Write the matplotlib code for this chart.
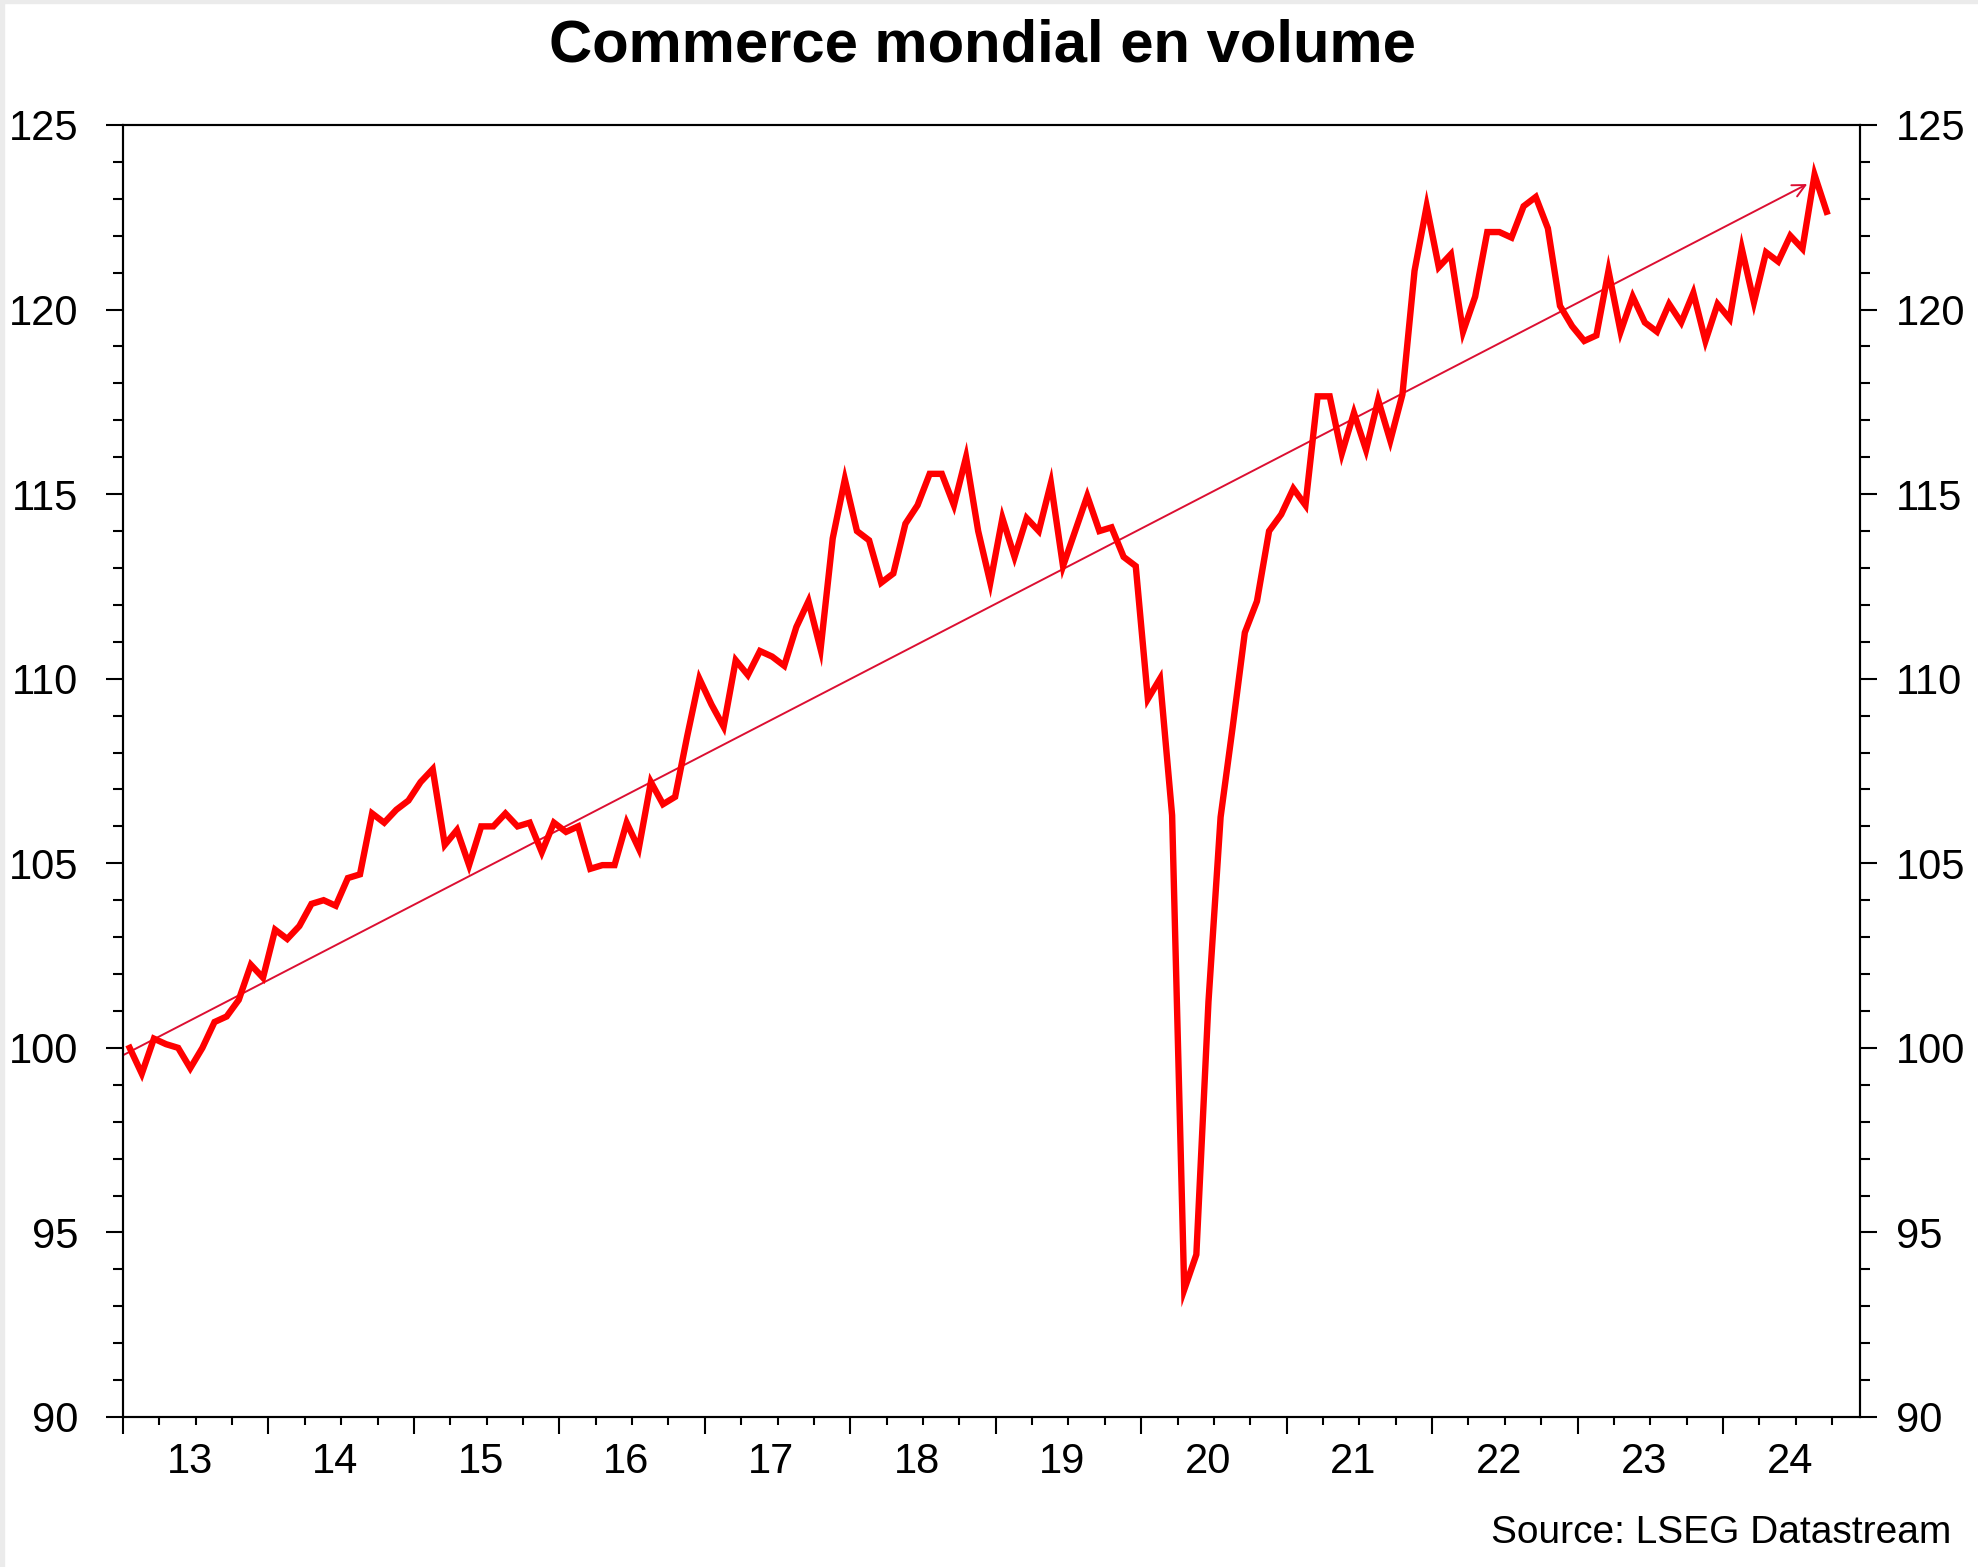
import matplotlib
matplotlib.use("Agg")
import matplotlib.pyplot as plt
import matplotlib.transforms as mtransforms
from matplotlib.patches import Rectangle
from matplotlib.ticker import MultipleLocator
import numpy as np

plt.rcParams['font.family'] = ['Liberation Sans', 'DejaVu Sans']

# indice mensuel du commerce mondial, janvier 2013 -> septembre 2024
volume = [
    100.0, 99.3, 100.25, 100.1, 100.0, 99.45, 100.0, 100.7, 100.85, 101.3, 102.25, 101.9,      # 2013
    103.2, 102.95, 103.3, 103.9, 104.0, 103.85, 104.6, 104.7, 106.35, 106.1, 106.45, 106.7,    # 2014
    107.2, 107.55, 105.5, 105.9, 104.95, 106.0, 106.0, 106.35, 106.0, 106.1, 105.3, 106.1,     # 2015
    105.85, 106.0, 104.85, 104.95, 104.95, 106.1, 105.4, 107.2, 106.6, 106.8, 108.45, 110.0,   # 2016
    109.3, 108.7, 110.5, 110.1, 110.75, 110.6, 110.35, 111.4, 112.1, 110.8, 113.8, 115.4,      # 2017
    114.0, 113.75, 112.6, 112.85, 114.2, 114.7, 115.55, 115.55, 114.7, 116.0, 114.0, 112.6,    # 2018
    114.35, 113.3, 114.35, 114.0, 115.3, 113.05, 114.0, 114.95, 114.0, 114.1, 113.3, 113.05,   # 2019
    109.45, 110.0, 106.3, 93.45, 94.4, 101.25, 106.25, 108.7, 111.25, 112.1, 114.0, 114.45,    # 2020
    115.15, 114.7, 117.65, 117.65, 116.1, 117.2, 116.2, 117.55, 116.45, 117.7, 121.05, 122.8,  # 2021
    121.15, 121.5, 119.4, 120.35, 122.1, 122.1, 121.95, 122.8, 123.05, 122.2, 120.1, 119.55,   # 2022
    119.15, 119.3, 121.05, 119.4, 120.35, 119.65, 119.4, 120.15, 119.65, 120.45, 119.15, 120.15,  # 2023
    119.75, 121.65, 120.2, 121.55, 121.3, 122.0, 121.65, 123.65, 122.65,                      # 2024
]
years = ['13', '14', '15', '16', '17', '18', '19', '20', '21', '22', '23', '24']
trend_start = 99.8     # fleche de tendance, debut et fin
trend_end = 123.4

fig = plt.figure(figsize=(19.78, 15.67), dpi=100)
ax = fig.add_axes([123 / 1978, 1 - 1417 / 1567, (1860 - 123) / 1978, (1417 - 125) / 1567])

x = np.arange(len(volume)) + 0.55
ax.plot(x, volume, color='#FF0000', lw=4.6, solid_joinstyle='miter', zorder=3)

ax.annotate('', xy=(138.95, trend_end), xytext=(0.0, trend_start),
            arrowprops=dict(arrowstyle='->,head_length=0.9,head_width=0.45',
                            color='#DC0F32', lw=1.4, shrinkA=0, shrinkB=0),
            zorder=2)

ax.set_xlim(0, 143.3)
ax.set_ylim(90, 125)

ax.xaxis.set_major_locator(MultipleLocator(12))
ax.xaxis.set_minor_locator(MultipleLocator(3))
ax.tick_params(axis='x', which='major', length=12, width=1.5, direction='out', labelbottom=False)
ax.tick_params(axis='x', which='minor', length=6, width=1.5, direction='out')

ax.yaxis.set_major_locator(MultipleLocator(5))
ax.yaxis.set_minor_locator(MultipleLocator(1))
ax.tick_params(axis='y', which='major', length=12, width=1.5, direction='out', labelsize=30, pad=20)
ax.tick_params(axis='y', which='minor', length=7, width=1.5, direction='out')

ax2 = ax.twinx()
ax2.set_ylim(90, 125)
ax2.yaxis.set_major_locator(MultipleLocator(5))
ax2.yaxis.set_minor_locator(MultipleLocator(1))
ax2.tick_params(axis='y', which='major', length=12, width=1.5, direction='out', labelsize=30, pad=14)
ax2.tick_params(axis='y', which='minor', length=7, width=1.5, direction='out')

for a in (ax, ax2):
    for s in a.spines.values():
        s.set_linewidth(1.5)

# annees centrees entre les graduations
trans = mtransforms.blended_transform_factory(ax.transData, ax.transAxes)
for i, lab in enumerate(years):
    ax.text(12 * i + 5.5, -0.0433, lab, transform=trans, ha='center', va='baseline', fontsize=30)

fig.text(982 / 1978, 1 - 61 / 1567, 'Commerce mondial en volume', ha='center', va='baseline',
         fontsize=43, fontweight='bold')
fig.text(1951 / 1978, 1 - 1543 / 1567, 'Source: LSEG Datastream', ha='right', va='baseline', fontsize=28)

# liseré gris du cadre
fig.patches.append(Rectangle((0, 1 - 3 / 1567), 1, 3 / 1567, transform=fig.transFigure,
                             color='#EBEBEB', zorder=0))
fig.patches.append(Rectangle((0, 0), 4 / 1978, 1, transform=fig.transFigure,
                             color='#EBEBEB', zorder=0))

fig.savefig('out.png', dpi=100)
